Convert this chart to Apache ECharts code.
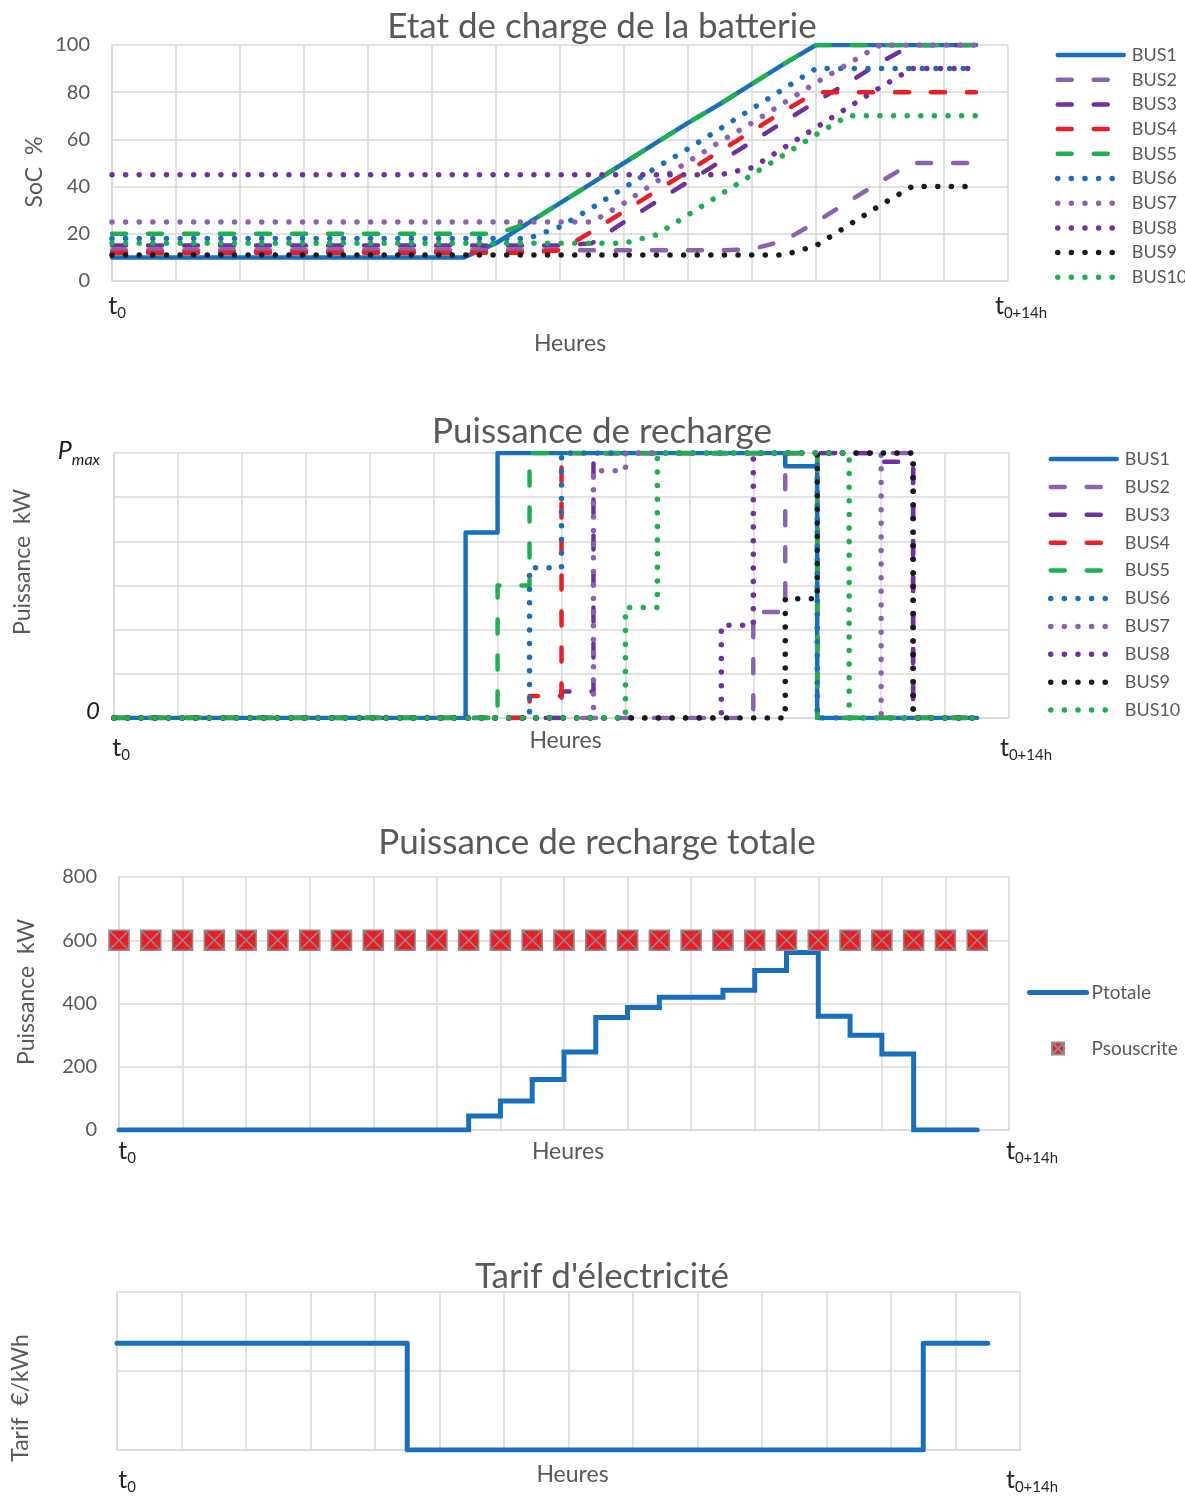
<!DOCTYPE html>
<html><head><meta charset="utf-8">
<script src="https://cdn.jsdelivr.net/npm/echarts@6/dist/echarts.min.js"></script>
<style>html,body{margin:0;padding:0;background:#fff}#c{width:1185px;height:1497px}</style>
</head><body><div id="c"></div>
<script>
// ---------- DATA ----------
const heures = [0,0.5,1,1.5,2,2.5,3,3.5,4,4.5,5,5.5,6,6.5,7,7.5,8,8.5,9,9.5,10,10.5,11,11.5,12,12.5,13,13.5];
const busNames = ['BUS1','BUS2','BUS3','BUS4','BUS5','BUS6','BUS7','BUS8','BUS9','BUS10'];

// Etat de charge (SoC %)
const socBUS1  = [10,10,10,10,10,10,10,10,10,10,10,10,16,24.5,33,41.5,50,58.5,67,75,83.5,92,100,100,100,100,100,100];
const socBUS2  = [13,13,13,13,13,13,13,13,13,13,13,13,13,13,13,13,13,13,13,13,13.5,17,25,33.5,42,50,50,50];
const socBUS3  = [15,15,15,15,15,15,15,15,15,15,15,15,15,15,15,16,25,33.5,42,50.5,59,67.5,76,84,92.5,100,100,100];
const socBUS4  = [12,12,12,12,12,12,12,12,12,12,12,12,12,12,13,21,29.5,38,46.5,55,63.5,72,80,80,80,80,80,80];
const socBUS5  = [20,20,20,20,20,20,20,20,20,20,20,20,20,24.5,33,41.5,50,58.5,67,75,83.5,92,100,100,100,100,100,100];
const socBUS6  = [18,18,18,18,18,18,18,18,18,18,18,18,18,18,23,31,39.5,48,56,64.5,73,81.5,90,90,90,90,90,90];
const socBUS7  = [25,25,25,25,25,25,25,25,25,25,25,25,25,25,25,25,33,42,50.5,59,67,75.5,84,92,100,100,100,100];
const socBUS8  = [45,45,45,45,45,45,45,45,45,45,45,45,45,45,45,45,45,45,45,45,48,56.5,65,73.5,82,90,90,90];
const socBUS9  = [11,11,11,11,11,11,11,11,11,11,11,11,11,11,11,11,11,11,11,11,11,11,15,23.5,32,40,40,40];
const socBUS10 = [16,16,16,16,16,16,16,16,16,16,16,16,16,16,16,16,16,19.5,28,36.5,45,53.5,62,70,70,70,70,70];

// Puissance de recharge (kW, Pmax = 60)
const puisBUS1  = [0,0,0,0,0,0,0,0,0,0,0,42,60,60,60,60,60,60,60,60,60,57,0,0,0,0,0,0];
const puisBUS2  = [0,0,0,0,0,0,0,0,0,0,0,0,0,0,0,0,0,0,0,0,24,60,60,60,60,0,0,0];
const puisBUS3  = [0,0,0,0,0,0,0,0,0,0,0,0,0,0,6,60,60,60,60,60,60,60,60,60,58,0,0,0];
const puisBUS4  = [0,0,0,0,0,0,0,0,0,0,0,0,0,5,60,60,60,60,60,60,60,60,0,0,0,0,0,0];
const puisBUS5  = [0,0,0,0,0,0,0,0,0,0,0,0,30,60,60,60,60,60,60,60,60,60,0,0,0,0,0,0];
const puisBUS6  = [0,0,0,0,0,0,0,0,0,0,0,0,0,34,60,60,60,60,60,60,60,60,0,0,0,0,0,0];
const puisBUS7  = [0,0,0,0,0,0,0,0,0,0,0,0,0,0,0,56,60,60,60,60,60,60,60,60,0,0,0,0];
const puisBUS8  = [0,0,0,0,0,0,0,0,0,0,0,0,0,0,0,0,0,0,0,21,60,60,60,60,60,0,0,0];
const puisBUS9  = [0,0,0,0,0,0,0,0,0,0,0,0,0,0,0,0,0,0,0,0,0,27,60,60,60,0,0,0];
const puisBUS10 = [0,0,0,0,0,0,0,0,0,0,0,0,0,0,0,0,25,60,60,60,60,60,60,0,0,0,0,0];
const pMax = 60;

// Puissance totale (kW)
const pTotale    = [0,0,0,0,0,0,0,0,0,0,0,44,92,160,247,356,387,420,420,442,504,561,360,300,240,0,0,0];
const pSouscrite = [600,600,600,600,600,600,600,600,600,600,600,600,600,600,600,600,600,600,600,600,600,600,600,600,600,600,600,600];

// Tarif (€/kWh, relatif)
const tarif = [0.135,0.135,0.135,0.135,0.135,0.135,0.135,0.135,0.135,0,0,0,0,0,0,0,0,0,0,0,0,0,0,0,0,0.135,0.135,0.135];

const titles = ['Etat de charge de la batterie','Puissance de recharge','Puissance de recharge totale',"Tarif d'électricité"];
const xName = 'Heures';
const yNames = ['SoC  %','Puissance  kW','Puissance  kW','Tarif  €/kWh'];
const xTickStart = ['t','0'];
const xTickEnd = ['t','0+14h'];
const pTickTop = ['P','max'];
const pTickZero = '0';

const socData = [socBUS1,socBUS2,socBUS3,socBUS4,socBUS5,socBUS6,socBUS7,socBUS8,socBUS9,socBUS10];
const puisData = [puisBUS1,puisBUS2,puisBUS3,puisBUS4,puisBUS5,puisBUS6,puisBUS7,puisBUS8,puisBUS9,puisBUS10];

// ---------- STYLE ----------
const FF = 'Lato, "Noto Sans", sans-serif';
const GRAY = '#595959';
const GRID = '#d9d9d9';
const BLUE = '#1870BC';
const busStyles = [
  {color: BLUE, k: 'solid'},
  {color: '#8B62B0', k: 'dash'},
  {color: '#7030A0', k: 'dash'},
  {color: '#EE1D25', k: 'dash'},
  {color: '#1DB04F', k: 'dash'},
  {color: BLUE, k: 'dot'},
  {color: '#8B62B0', k: 'dot'},
  {color: '#7030A0', k: 'dot'},
  {color: '#1A1A1A', k: 'dot'},
  {color: '#1DB04F', k: 'dot'}
];
function ls(s) {
  if (s.k === 'solid') return {color: s.color, width: 4.5, cap: 'round', join: 'round'};
  if (s.k === 'dash') return {color: s.color, width: 4.5, type: [14, 22], cap: 'round', join: 'round'};
  return {color: s.color, width: 5.5, type: [0.01, 13.6], cap: 'round', join: 'round'};
}
const pairs = arr => heures.map((h, i) => [h, arr[i]]);

function xAxisFor(gi, margin, offL, offR, nameGap, nameShift) {
  return {
    type: 'value', gridIndex: gi, min: 0, max: 14, interval: 1,
    axisLine: {show: true, lineStyle: {color: GRID, width: 1.5}},
    axisTick: {show: false},
    splitLine: {show: true, lineStyle: {color: GRID, width: 1.5}},
    axisLabel: {
      interval: 0, margin: margin, showMinLabel: true, showMaxLabel: true,
      formatter: v => v === 0 ? '{a|' + xTickStart[0] + '}{s|' + xTickStart[1] + '}'
        : (v === 14 ? '{b|' + xTickEnd[0] + '}{s|' + xTickEnd[1] + '}' : ''),
      rich: {
        a: {fontFamily: FF, fontSize: 25, color: '#262626', verticalAlign: 'bottom', padding: [0, 0, 3, 2 * offL]},
        b: {fontFamily: FF, fontSize: 25, color: '#262626', verticalAlign: 'bottom', padding: [0, 0, 3, 2 * offR]},
        s: {fontFamily: FF, fontSize: 15, color: '#262626', verticalAlign: 'bottom'}
      }
    },
    name: xName, nameLocation: 'middle', nameGap: nameGap, nameMoveOverlap: false,
    nameTextStyle: {fontFamily: FF, fontSize: 23, color: GRAY, padding: [0, 0, 0, 2 * nameShift]}
  };
}
function yAxisFor(gi, min, max, interval, name, nameGap, pad, labelOpt) {
  return {
    type: 'value', gridIndex: gi, min: min, max: max, interval: interval,
    axisLine: {show: true, lineStyle: {color: GRID, width: 1.5}},
    axisTick: {show: false},
    splitLine: {show: true, lineStyle: {color: GRID, width: 1.5}},
    axisLabel: labelOpt,
    name: name, nameLocation: 'middle', nameGap: nameGap, nameRotate: 90, nameMoveOverlap: false,
    nameTextStyle: {fontFamily: FF, fontSize: 23, color: GRAY, padding: pad}
  };
}
const numLabel = {fontFamily: FF, fontSize: 20, color: GRAY, margin: 22};

const series = [];
busNames.forEach((n, i) => {
  series.push({
    name: n, type: 'line', xAxisIndex: 0, yAxisIndex: 0, symbol: 'none',
    data: pairs(socData[i]), lineStyle: ls(busStyles[i]), itemStyle: {color: busStyles[i].color},
    emphasis: {disabled: true}, z: 2 + i
  });
});
busNames.forEach((n, i) => {
  series.push({
    name: n, type: 'line', xAxisIndex: 1, yAxisIndex: 1, symbol: 'none', step: 'end',
    data: pairs(puisData[i]), lineStyle: ls(busStyles[i]), itemStyle: {color: busStyles[i].color},
    emphasis: {disabled: true}, z: 2 + i
  });
});
series.push({
  name: 'Ptotale', type: 'line', xAxisIndex: 2, yAxisIndex: 2, symbol: 'none', step: 'end',
  data: pairs(pTotale), lineStyle: {color: BLUE, width: 5, cap: 'round', join: 'miter'},
  itemStyle: {color: BLUE}, emphasis: {disabled: true}, z: 3
});
const XSQ = 'path://M0,0L10,0L10,10L0,10ZM0,0L10,10M10,0L0,10';
series.push({
  name: 'Psouscrite', type: 'scatter', xAxisIndex: 2, yAxisIndex: 2,
  symbol: XSQ, symbolSize: 20, data: pairs(pSouscrite),
  itemStyle: {color: '#EE1D25', borderColor: '#8C8C8C', borderWidth: 1.6, opacity: 1},
  emphasis: {disabled: true}, z: 4
});
series.push({
  name: 'Tarif', type: 'line', xAxisIndex: 3, yAxisIndex: 3, symbol: 'none', step: 'end',
  data: pairs(tarif), lineStyle: {color: BLUE, width: 5, cap: 'round', join: 'round'},
  itemStyle: {color: BLUE}, emphasis: {disabled: true}
});

const legTxt = {fontFamily: FF, fontSize: 18, color: GRAY, lineHeight: 18, padding: [0, 0, 0, 3]};
const option = {
  animation: false,
  backgroundColor: '#fff',
  title: [
    {text: titles[0], left: 602, top: 9, textAlign: 'center', padding: 0},
    {text: titles[1], left: 602, top: 414, textAlign: 'center', padding: 0},
    {text: titles[2], left: 597, top: 825, textAlign: 'center', padding: 0},
    {text: titles[3], left: 602, top: 1259, textAlign: 'center', padding: 0}
  ].map(t => Object.assign(t, {textStyle: {fontFamily: FF, fontSize: 35, fontWeight: 'normal', color: GRAY}})),
  legend: [
    {data: busNames, orient: 'vertical', left: 1055, top: 46, padding: 0, itemWidth: 66, itemHeight: 14,
     itemGap: 6.7, textStyle: legTxt, itemStyle: {opacity: 0}, lineStyle: {width: 'inherit'}, selectedMode: false},
    {data: busNames, orient: 'vertical', left: 1048, top: 450, padding: 0, itemWidth: 66, itemHeight: 14,
     itemGap: 9.9, textStyle: legTxt, itemStyle: {opacity: 0}, lineStyle: {width: 'inherit'}, selectedMode: false},
    {data: [{name: 'Ptotale', itemStyle: {opacity: 0}}, {name: 'Psouscrite'}], orient: 'vertical', left: 1027, top: 983,
     padding: 0, itemWidth: 57, itemHeight: 12, itemGap: 37,
     textStyle: {fontFamily: FF, fontSize: 19, color: GRAY, lineHeight: 18}, lineStyle: {width: 'inherit'}, selectedMode: false}
  ],
  grid: [
    {left: 112, top: 45, width: 896, height: 236, outerBoundsMode: 'none'},
    {left: 114, top: 453, width: 895, height: 265, outerBoundsMode: 'none'},
    {left: 119, top: 877, width: 890, height: 253, outerBoundsMode: 'none'},
    {left: 117, top: 1292, width: 903, height: 158, outerBoundsMode: 'none'}
  ],
  xAxis: [
    xAxisFor(0, 12, 5, 13, 51, 10),
    xAxisFor(1, 17, 7, 17, 11, 4),
    xAxisFor(2, 8, 8, 23, 10, 4),
    xAxisFor(3, 17, 10, 12, 13, 4)
  ],
  yAxis: [
    yAxisFor(0, 0, 100, 20, yNames[0], 66, [0, 18, 0, 0], numLabel),
    yAxisFor(1, 0, pMax, 10, yNames[1], 80, [0, 0, 0, 47], {
      margin: 14, interval: 0,
      formatter: v => v === pMax ? '{p|' + pTickTop[0] + '}{m|' + pTickTop[1] + '}' : (v === 0 ? '{z|' + pTickZero + '}' : ''),
      rich: {
        p: {fontFamily: FF, fontStyle: 'italic', fontSize: 25, color: '#1a1a1a', verticalAlign: 'bottom', padding: [0, 0, 4, 0]},
        m: {fontFamily: FF, fontStyle: 'italic', fontSize: 16, color: '#1a1a1a', verticalAlign: 'bottom'},
        z: {fontFamily: FF, fontStyle: 'italic', fontSize: 24, color: '#1a1a1a', padding: [0, 0, 14, 0]}
      }
    }),
    yAxisFor(2, 0, 800, 200, yNames[2], 81, [0, 0, 0, 23], numLabel),
    yAxisFor(3, 0, 0.2, 0.1, yNames[3], 85, [0, 54, 0, 0], {show: false})
  ],
  series: series
};
const chart = echarts.init(document.getElementById('c'), null, {renderer: 'canvas'});
chart.setOption(option);
</script>
</body></html>
